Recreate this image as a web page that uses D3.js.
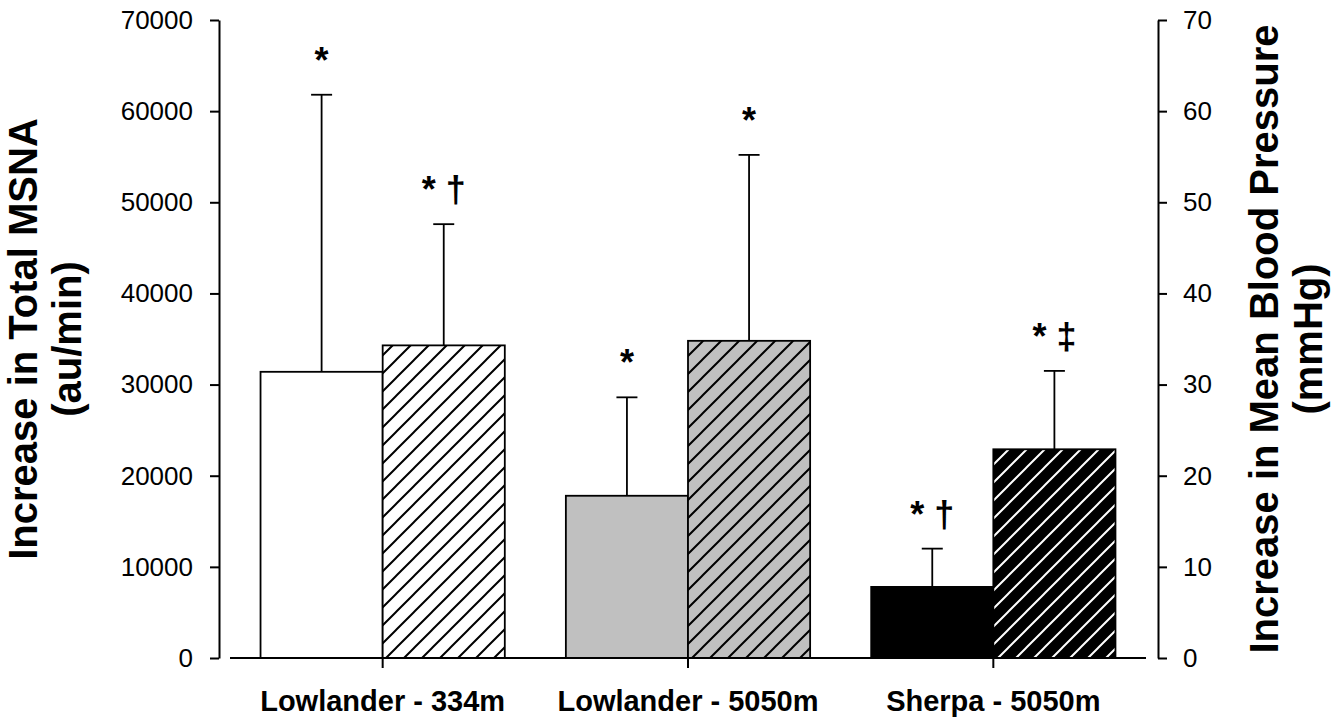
<!DOCTYPE html>
<html>
<head>
<meta charset="utf-8">
<script src="https://cdn.jsdelivr.net/npm/d3@7"></script>
<style>
  html, body { margin: 0; padding: 0; background: #fff; }
  svg { display: block; font-family: "Liberation Sans", Arial, sans-serif; }
</style>
</head>
<body>
<svg id="chart" width="1332" height="718"></svg>
<script>
// ---- data ----
const categories = ["Lowlander - 334m", "Lowlander - 5050m", "Sherpa - 5050m"];
const msnaMean = [31400, 17800, 7800];     // left axis (au/min)
const msnaSD   = [30400, 10800, 4200];
const mbpMean  = [34.3, 34.8, 22.9];        // right axis (mmHg)
const mbpSD    = [13.3, 20.4, 8.6];
const msnaSig  = ["*", "*", "* \u2020"];
const mbpSig   = ["* \u2020", "*", "* \u2021"];
const leftTicks  = [0, 10000, 20000, 30000, 40000, 50000, 60000, 70000];
const rightTicks = [0, 10, 20, 30, 40, 50, 60, 70];

// ---- styles ----
const groupFill = ["#ffffff", "#c0c0c0", "#000000"];
const hatchLine = ["#000000", "#000000", "#ffffff"];

const svg = d3.select("#chart");
const W = 1332, H = 718;
svg.append("rect").attr("width", W).attr("height", H).attr("fill", "#fff");

const plotTop = 20, plotBottom = 658;
const xLeft = 230, xRight = 1146;
const axisLX = 219, axisRX = 1158;

const yL = d3.scaleLinear().domain([0, 70000]).range([plotBottom, plotTop]);
const yR = d3.scaleLinear().domain([0, 70]).range([plotBottom, plotTop]);
const x = d3.scaleBand().domain(categories).range([xLeft, xRight])
  .paddingInner(0.2).paddingOuter(0.1);
const bw = x.bandwidth() / 2;

// hatch patterns
const defs = svg.append("defs");
categories.forEach((c, i) => {
  const p = defs.append("pattern").attr("id", "hatch" + i)
    .attr("patternUnits", "userSpaceOnUse").attr("width", 18).attr("height", 18);
  p.append("rect").attr("width", 18).attr("height", 18).attr("fill", groupFill[i]);
  p.append("path").attr("d", "M0,18 L18,0 M-4.5,4.5 L4.5,-4.5 M13.5,22.5 L22.5,13.5")
    .attr("stroke", hatchLine[i]).attr("stroke-width", 2);
});

const g = svg.append("g");

function errBar(cx, yTop, yBase) {
  g.append("line").attr("x1", cx).attr("x2", cx).attr("y1", yTop).attr("y2", yBase)
    .attr("stroke", "#000").attr("stroke-width", 1.8);
  g.append("line").attr("x1", cx - 10.5).attr("x2", cx + 10.5).attr("y1", yTop).attr("y2", yTop)
    .attr("stroke", "#000").attr("stroke-width", 1.8);
}

categories.forEach((c, i) => {
  const x0 = x(c);
  errBar(x0 + bw / 2, yL(msnaMean[i] + msnaSD[i]), yL(msnaMean[i]));
  g.append("rect").attr("x", x0).attr("y", yL(msnaMean[i]))
    .attr("width", bw).attr("height", yL(0) - yL(msnaMean[i]))
    .attr("fill", groupFill[i]).attr("stroke", "#000").attr("stroke-width", 1.8);
  errBar(x0 + bw * 1.5, yR(mbpMean[i] + mbpSD[i]), yR(mbpMean[i]));
  g.append("rect").attr("x", x0 + bw).attr("y", yR(mbpMean[i]))
    .attr("width", bw).attr("height", yR(0) - yR(mbpMean[i]))
    .attr("fill", "url(#hatch" + i + ")").attr("stroke", "#000").attr("stroke-width", 1.8);
  g.append("text").attr("x", x0 + bw / 2).attr("y", yL(msnaMean[i] + msnaSD[i]) - 22)
    .attr("text-anchor", "middle").attr("font-size", 36).attr("font-weight", "bold")
    .attr("fill", "#000").text(msnaSig[i]);
  g.append("text").attr("x", x0 + bw * 1.5).attr("y", yR(mbpMean[i] + mbpSD[i]) - 22)
    .attr("text-anchor", "middle").attr("font-size", 36).attr("font-weight", "bold")
    .attr("fill", "#000").text(mbpSig[i]);
});

// x baseline + ticks
const xAxis = d3.axisBottom(x).tickSize(10).tickSizeOuter(0).tickPadding(18);
const gx = svg.append("g").attr("transform", `translate(0,${plotBottom})`).call(xAxis);
gx.select(".domain").attr("d", `M${xLeft},0H${xRight}`).attr("stroke-width", 2);
gx.selectAll(".tick line").attr("stroke-width", 2);
gx.selectAll(".tick text").attr("font-size", 29).attr("font-weight", "bold")
  .attr("fill", "#000").attr("font-family", "Liberation Sans, Arial, sans-serif")
  .attr("dy", "0").attr("y", 53);

// left axis
const gl = svg.append("g").attr("transform", `translate(${axisLX},0)`)
  .call(d3.axisLeft(yL).tickValues(leftTicks).tickFormat(d3.format("d")).tickSize(9).tickSizeOuter(0).tickPadding(17));
gl.select(".domain").attr("stroke-width", 2);
gl.selectAll(".tick line").attr("stroke-width", 2);
gl.selectAll(".tick text").attr("font-size", 26).attr("fill", "#000")
  .attr("font-family", "Liberation Sans, Arial, sans-serif");

// right axis
const gr = svg.append("g").attr("transform", `translate(${axisRX},0)`)
  .call(d3.axisRight(yR).tickValues(rightTicks).tickFormat(d3.format("d")).tickSize(9).tickSizeOuter(0).tickPadding(16));
gr.select(".domain").attr("stroke-width", 2);
gr.selectAll(".tick line").attr("stroke-width", 2);
gr.selectAll(".tick text").attr("font-size", 26).attr("fill", "#000")
  .attr("font-family", "Liberation Sans, Arial, sans-serif");

// axis titles
const midY = (plotTop + plotBottom) / 2;
function vTitle(tx, txt) {
  svg.append("text").attr("transform", `translate(${tx},${midY}) rotate(-90)`)
    .attr("text-anchor", "middle").attr("font-size", 40).attr("font-weight", "bold")
    .attr("fill", "#000").text(txt);
}
vTitle(37, "Increase in Total MSNA");
vTitle(81, "(au/min)");
vTitle(1278, "Increase in Mean Blood Pressure");
vTitle(1322, "(mmHg)");
</script>
</body>
</html>
